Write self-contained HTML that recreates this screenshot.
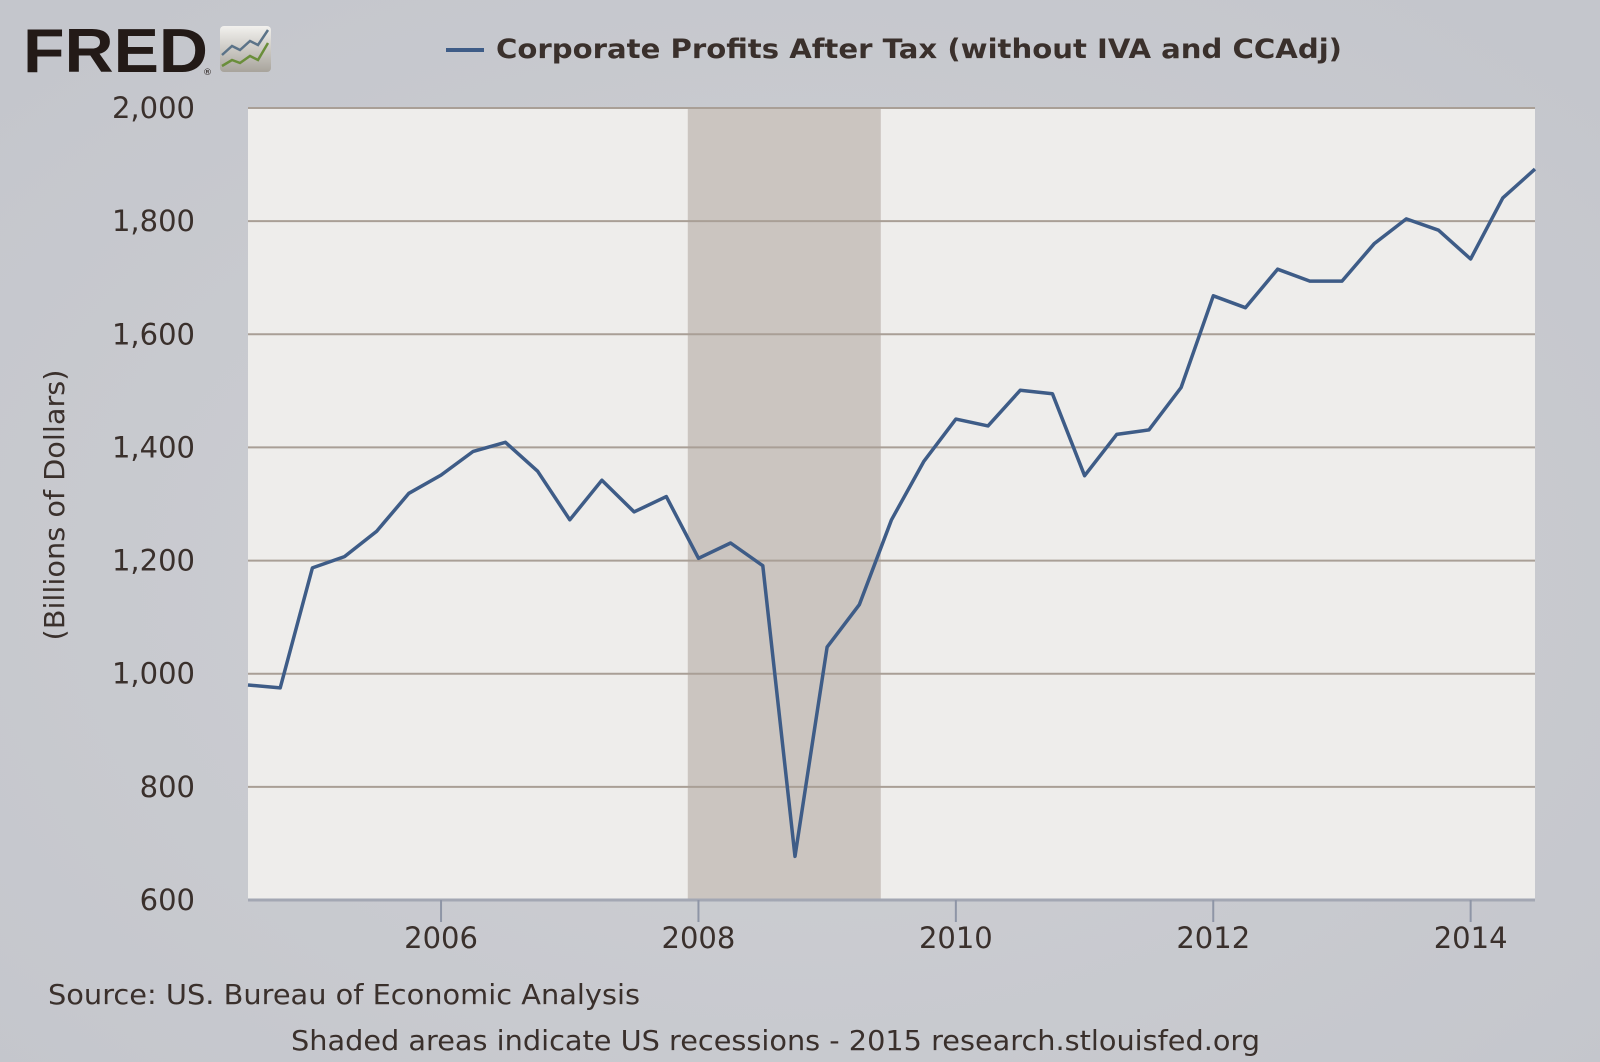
<!DOCTYPE html>
<html><head><meta charset="utf-8"><style>
html,body{margin:0;padding:0;background:#c9cacf;}
svg{display:block;}
text{font-family:"DejaVu Sans","Liberation Sans",sans-serif;fill:#3a302c;}
</style></head><body>
<svg id="chart" width="1600" height="1062" viewBox="0 0 1600 1062">
<defs><radialGradient id="bg" cx="50%" cy="55%" r="70%"><stop offset="0" stop-color="#cfd0d4"/><stop offset="1" stop-color="#c4c6cc"/></radialGradient>
<linearGradient id="logo" x1="0" y1="0" x2="0" y2="1"><stop offset="0" stop-color="#f2f1ee"/><stop offset="1" stop-color="#a8a49c"/></linearGradient></defs>
<rect width="1600" height="1062" fill="url(#bg)"/>
<g>
<text x="23" y="72" style="font-family:'Liberation Sans',sans-serif;font-weight:bold;font-size:62px;fill:#231a17;" textLength="185" lengthAdjust="spacingAndGlyphs">FRED</text>
<text x="203" y="75" style="font-size:9px;fill:#231a17">®</text>
<rect x="220" y="26" width="51" height="46" rx="4" fill="url(#logo)"/>
<polyline points="222,55 232,46 240,50 250,41 258,45 268,30" fill="none" stroke="#5b7388" stroke-width="2.5"/>
<polyline points="222,66 232,60 240,63 250,56 258,60 268,43" fill="none" stroke="#6a8e3a" stroke-width="2.5"/>
</g>
<g>
<line x1="446" y1="50" x2="484" y2="50" stroke="#3e5c87" stroke-width="4"/>
<text x="496" y="58" style="font-weight:bold;font-size:27px;" textLength="846" lengthAdjust="spacingAndGlyphs">Corporate Profits After Tax (without IVA and CCAdj)</text>
</g>
<rect x="248" y="108" width="1287" height="792" fill="#eeedeb"/>
<g id="rec"></g>
<g id="grid"></g>
<g id="series"></g>
<g id="yticks"></g>
<g id="xticks"></g>
<text transform="translate(64,505) rotate(-90)" text-anchor="middle" style="font-size:28px;" textLength="271" lengthAdjust="spacingAndGlyphs">(Billions of Dollars)</text>
<text x="48" y="1004" style="font-size:28px;" textLength="592" lengthAdjust="spacingAndGlyphs">Source: US. Bureau of Economic Analysis</text>
<text x="291" y="1050" style="font-size:28px;" textLength="969" lengthAdjust="spacingAndGlyphs">Shaded areas indicate US recessions - 2015 research.stlouisfed.org</text>
</svg>
<script>
const startYear = 2004.5;
const values = [980,975,1187,1207,1252,1319,1351,1393,1409,1358,1272,1342,1286,1313,1204,1231,1191,677,1047,1122,1272,1375,1450,1438,1501,1495,1350,1423,1431,1506,1668,1647,1715,1694,1694,1760,1804,1784,1733,1841,1892];
const yTicks = [600,800,1000,1200,1400,1600,1800,2000];
const yTickLabels = ["600","800","1,000","1,200","1,400","1,600","1,800","2,000"];
const xTicks = [2006,2008,2010,2012,2014];
const recessions = [[2007.917,2009.417]];
const NS="http://www.w3.org/2000/svg";
const L=248,R=1535,T=108,B=900,x0=2004.5,x1=2014.5,y0=600,y1=2000;
const X=v=>L+(v-x0)/(x1-x0)*(R-L);
const Y=v=>B-(v-y0)/(y1-y0)*(B-T);
function mk(tag,attrs,parent){const e=document.createElementNS(NS,tag);for(const k in attrs)e.setAttribute(k,attrs[k]);document.getElementById(parent).appendChild(e);return e;}
recessions.forEach(r=>{const e=mk('rect',{x:X(r[0]),y:T,width:X(r[1])-X(r[0]),height:B-T,fill:'#cbc5c0'},'rec');

});
yTicks.forEach((v,i)=>{
 if(v>y0){const g=mk('line',{x1:L,x2:R,y1:Y(v),y2:Y(v),stroke:'#a99f96','stroke-width':2},'grid');
 
 }
 const t=mk('text',{x:195,y:Y(v)+10,'text-anchor':'end','font-size':29},'yticks');t.textContent=yTickLabels[i];
 
 
});
mk('line',{x1:L,x2:R,y1:B,y2:B,stroke:'#a3a7b3','stroke-width':3},'xticks');
xTicks.forEach(v=>{
 const l=mk('line',{x1:X(v),x2:X(v),y1:B,y2:B+22,stroke:'#8e95a6','stroke-width':2},'xticks');
 
 
 const t=mk('text',{x:X(v),y:B+48,'text-anchor':'middle','font-size':29},'xticks');t.textContent=v;
 
 
});
const pts=values.map((v,i)=>X(startYear+i*0.25).toFixed(1)+','+Y(v).toFixed(1)).join(' ');
const p=mk('polyline',{points:pts,fill:'none',stroke:'#3e5c87','stroke-width':3.5,'stroke-linejoin':'round'},'series');


</script>
</body></html>
